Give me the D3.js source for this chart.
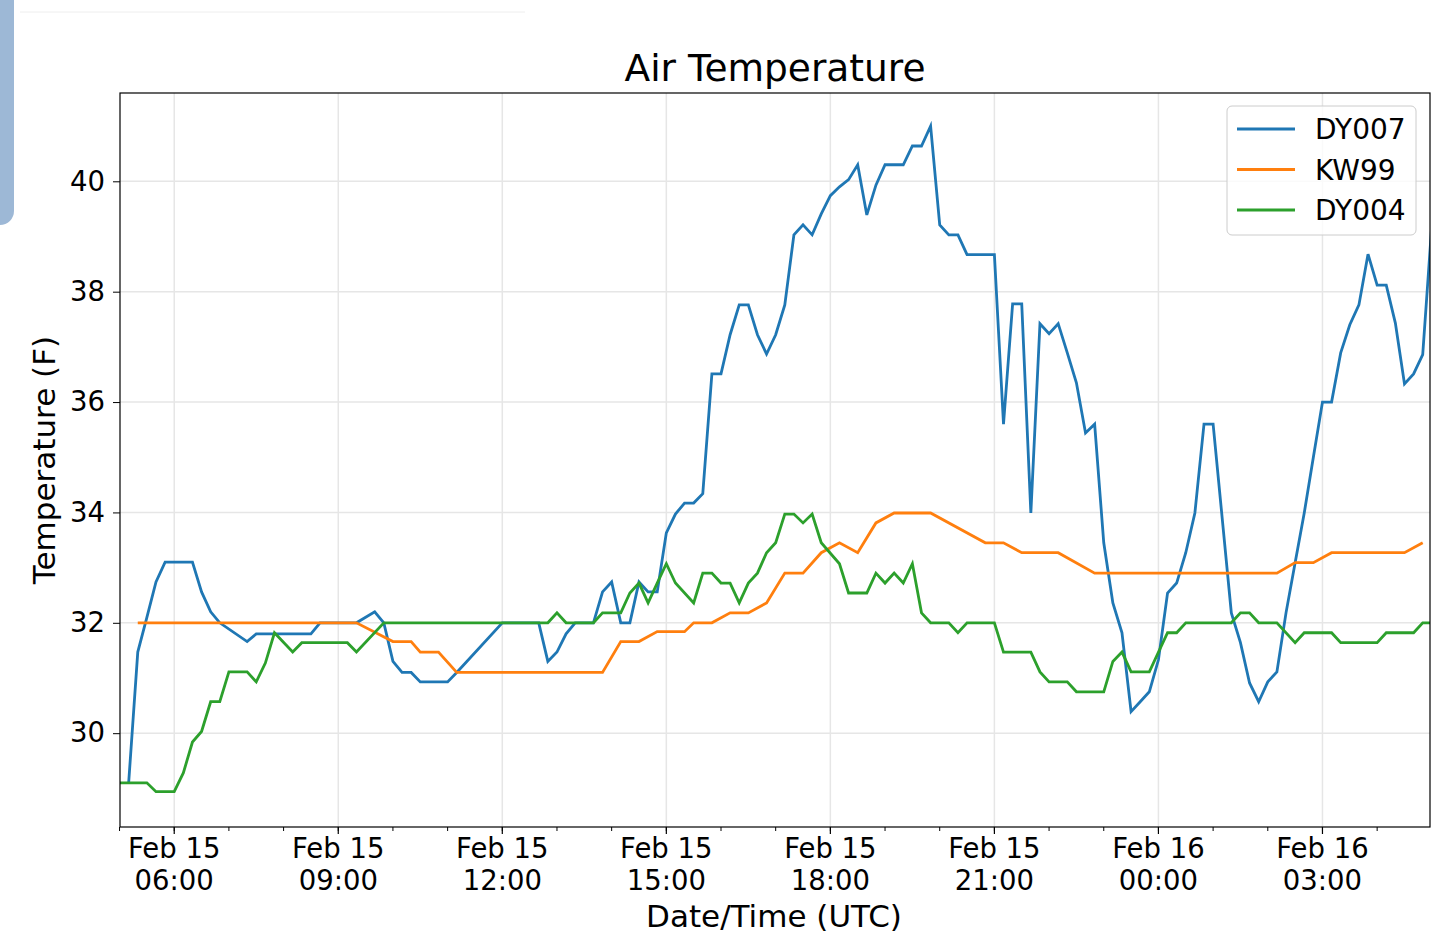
<!DOCTYPE html>
<html>
<head>
<meta charset="utf-8">
<script src="https://cdn.jsdelivr.net/npm/d3@7"></script>
<style>
  body { margin: 0; background: #fff; }
  text { font-family: "DejaVu Sans", sans-serif; fill: #000; }
</style>
</head>
<body>
<svg id="chart" width="1431" height="949"></svg>
<script>
// minutes after 2019-02-15 05:00 UTC, temperature (F)
var dy007Min = [10,20,30,40,50,80,90,100,110,140,150,210,220,260,280,290,300,310,320,330,360,370,420,460,470,480,490,500,520,530,540,550,560,570,580,590,600,610,620,630,640,650,660,670,680,690,700,710,720,730,740,750,760,770,780,790,800,810,820,830,840,860,870,880,890,900,910,920,930,960,970,980,990,1000,1010,1020,1030,1040,1050,1060,1070,1080,1090,1100,1110,1120,1130,1140,1150,1160,1170,1180,1190,1200,1220,1230,1240,1250,1260,1270,1280,1290,1300,1310,1320,1330,1340,1350,1360,1370,1380,1390,1400,1410,1420,1430,1440];
var dy007Val = [29.1,31.47,32.1,32.74,33.1,33.1,32.56,32.2,32.0,31.66,31.8,31.8,32.0,32.0,32.2,32.0,31.3,31.1,31.1,30.93,30.93,31.1,32.0,32.0,31.3,31.47,31.8,32.0,32.0,32.56,32.74,32.0,32.0,32.74,32.56,32.56,33.63,33.97,34.17,34.17,34.34,36.51,36.51,37.22,37.76,37.76,37.22,36.87,37.22,37.76,39.03,39.21,39.03,39.41,39.74,39.9,40.03,40.3,39.39,39.93,40.3,40.3,40.64,40.64,41.0,39.21,39.03,39.03,38.67,38.67,35.6,37.78,37.78,33.99,37.42,37.24,37.42,36.89,36.35,35.44,35.6,33.45,32.36,31.82,30.39,30.57,30.75,31.33,32.54,32.72,33.27,33.99,35.6,35.6,32.18,31.64,30.91,30.57,30.93,31.11,32.18,33.09,33.99,35.0,36.0,36.0,36.89,37.4,37.76,38.68,38.12,38.12,37.43,36.33,36.51,36.86,39.21];

var kw99Min = [20,260,300,320,330,350,370,530,550,570,590,620,630,650,670,690,710,730,750,770,790,810,830,850,890,950,970,990,1030,1070,1270,1290,1310,1330,1410,1430];
var kw99Val = [32.0,32.0,31.66,31.66,31.47,31.47,31.1,31.1,31.66,31.66,31.84,31.84,32.0,32.0,32.18,32.18,32.36,32.9,32.9,33.27,33.45,33.27,33.81,33.99,33.99,33.45,33.45,33.27,33.27,32.9,32.9,33.09,33.09,33.27,33.27,33.45];

var dy004Min = [0,30,40,60,70,80,90,100,110,120,140,150,160,170,190,200,250,260,290,470,480,490,520,530,550,560,570,580,590,600,610,630,640,650,660,670,680,690,700,710,720,730,740,750,760,770,790,800,820,830,840,850,860,870,880,890,910,920,930,960,970,1000,1010,1020,1040,1050,1080,1090,1100,1110,1130,1150,1160,1170,1220,1230,1240,1250,1270,1290,1300,1330,1340,1380,1390,1420,1430,1440];
var dy004Val = [29.1,29.1,28.94,28.94,29.28,29.84,30.03,30.57,30.57,31.11,31.11,30.93,31.27,31.82,31.47,31.64,31.64,31.47,32.0,32.0,32.18,32.0,32.0,32.18,32.18,32.54,32.72,32.36,32.72,33.07,32.72,32.36,32.9,32.9,32.72,32.72,32.36,32.72,32.9,33.27,33.45,33.97,33.97,33.81,33.97,33.45,33.07,32.54,32.54,32.9,32.72,32.9,32.72,33.07,32.18,32.0,32.0,31.82,32.0,32.0,31.47,31.47,31.11,30.93,30.93,30.75,30.75,31.3,31.47,31.11,31.11,31.82,31.82,32.0,32.0,32.18,32.18,32.0,32.0,31.64,31.82,31.82,31.64,31.64,31.82,31.82,32.0,32.0];

var seriesNames = ["DY007", "KW99", "DY004"];
var seriesColors = ["#1f77b4", "#ff7f0e", "#2ca02c"];
var yTicks = [30, 32, 34, 36, 38, 40];

var t0 = Date.UTC(2019, 1, 15, 5, 0);
function toDate(m) { return new Date(t0 + m * 60000); }
function pairs(ms, vs) { return ms.map(function(m, i) { return { t: toDate(m), v: vs[i] }; }); }
var series = [pairs(dy007Min, dy007Val), pairs(kw99Min, kw99Val), pairs(dy004Min, dy004Val)];

var L = 120, R = 1430, T = 93, B = 827;
var svg = d3.select("#chart");

// screenshot artefacts
svg.append("rect").attr("x", -20).attr("y", -20).attr("width", 34).attr("height", 245).attr("rx", 14).style("fill", "#9db8d6");
svg.append("line").attr("x1", 20).attr("x2", 525).attr("y1", 12).attr("y2", 12).style("stroke", "#eee");

var x = d3.scaleUtc().domain([toDate(0.5), toDate(1438)]).range([L, R]);
var y = d3.scaleLinear().domain([28.3, 41.6]).range([B, T]);

var majors = d3.range(60, 1438, 180).map(toDate);
var minors = d3.range(0, 1438, 60).map(toDate);

var grid = svg.append("g");
grid.selectAll(".gx").data(majors).enter().append("line")
  .attr("x1", function(d) { return x(d); }).attr("x2", function(d) { return x(d); })
  .attr("y1", T).attr("y2", B).style("stroke", "#e6e6e6").style("stroke-width", 1.5);
grid.selectAll(".gy").data(yTicks).enter().append("line")
  .attr("x1", L).attr("x2", R)
  .attr("y1", function(d) { return y(d); }).attr("y2", function(d) { return y(d); })
  .style("stroke", "#e6e6e6").style("stroke-width", 1.5);

svg.append("clipPath").attr("id", "clip").append("rect")
  .attr("x", L).attr("y", T).attr("width", R - L).attr("height", B - T);

var line = d3.line().x(function(d) { return x(d.t); }).y(function(d) { return y(d.v); });
svg.append("g").attr("clip-path", "url(#clip)").selectAll("path").data(series).enter().append("path")
  .attr("d", line).style("fill", "none")
  .style("stroke", function(d, i) { return seriesColors[i]; }).style("stroke-width", 2.8);

// x axis
var fmtDay = d3.utcFormat("%b %d"), fmtHour = d3.utcFormat("%H:%M");
var xAxis = svg.append("g").attr("transform", "translate(0," + B + ")");
xAxis.selectAll(".mn").data(minors).enter().append("line")
  .attr("x1", function(d) { return x(d); }).attr("x2", function(d) { return x(d); })
  .attr("y1", 0).attr("y2", 4).style("stroke", "#000");
var xt = xAxis.selectAll(".xt").data(majors).enter().append("g")
  .attr("transform", function(d) { return "translate(" + x(d) + ",0)"; });
xt.append("line").attr("y2", 7).style("stroke", "#000").style("stroke-width", 1.2);
xt.append("text").attr("text-anchor", "middle").attr("y", 31).style("font-size", "27.5px").text(function(d) { return fmtDay(d); });
xt.append("text").attr("text-anchor", "middle").attr("y", 63).style("font-size", "27.5px").text(function(d) { return fmtHour(d); });

// y axis
var yAxis = svg.append("g").attr("transform", "translate(" + L + ",0)")
  .call(d3.axisLeft(y).tickValues(yTicks).tickSize(7).tickPadding(8).tickFormat(d3.format("d")));
yAxis.select(".domain").remove();
yAxis.selectAll("text").style("font-size", "27.5px").style("font-family", "DejaVu Sans");

svg.append("rect").attr("x", L).attr("y", T).attr("width", R - L).attr("height", B - T)
  .style("fill", "none").style("stroke", "#000").style("stroke-width", 1.2);

svg.append("text").attr("x", 775).attr("y", 81).attr("text-anchor", "middle").style("font-size", "37.5px").text("Air Temperature");
svg.append("text").attr("x", 774).attr("y", 927).attr("text-anchor", "middle").style("font-size", "31px").text("Date/Time (UTC)");
svg.append("text").attr("transform", "translate(55,460) rotate(-90)").attr("text-anchor", "middle").style("font-size", "31px").text("Temperature (F)");

// legend
var lg = svg.append("g").attr("transform", "translate(1227,106)");
lg.append("rect").attr("width", 189).attr("height", 129).attr("rx", 5)
  .style("fill", "#fff").style("fill-opacity", 0.8).style("stroke", "#ccc");
var li = lg.selectAll(".li").data(seriesNames).enter().append("g")
  .attr("transform", function(d, i) { return "translate(0," + (23 + i * 40.5) + ")"; });
li.append("line").attr("x1", 10).attr("x2", 68).style("stroke", function(d, i) { return seriesColors[i]; }).style("stroke-width", 2.8);
li.append("text").attr("x", 88).attr("y", 10).style("font-size", "28px").text(function(d) { return d; });
</script>
</body>
</html>
